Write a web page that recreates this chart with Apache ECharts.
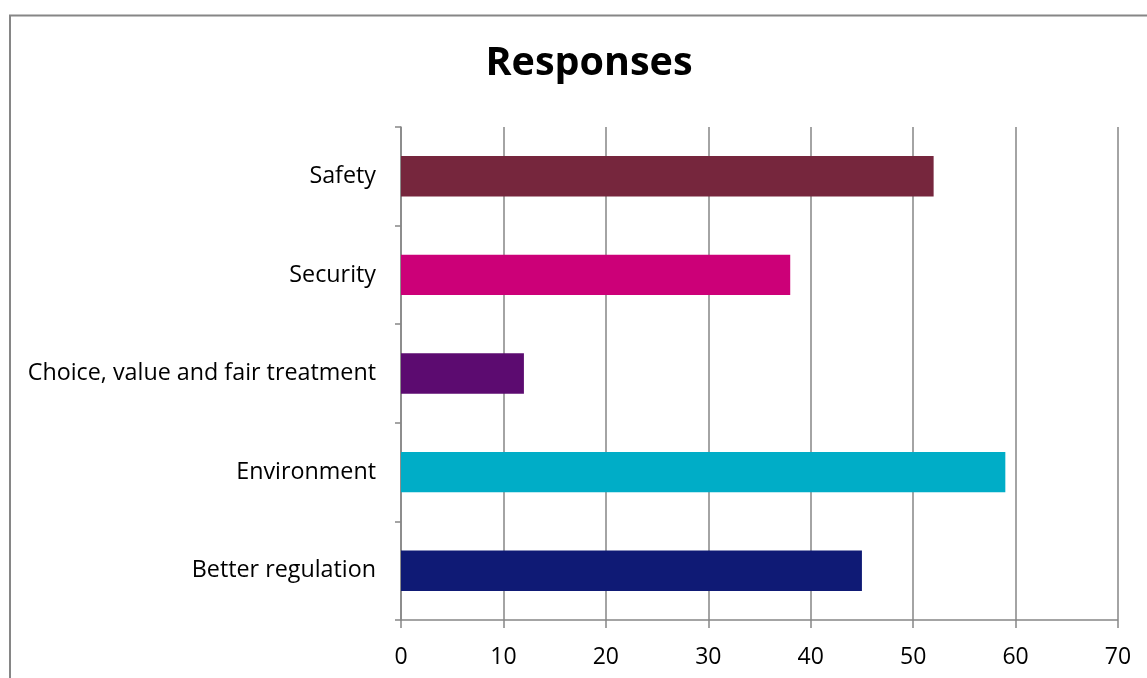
<!DOCTYPE html>
<html><head><meta charset="utf-8">
<script src="https://cdn.jsdelivr.net/npm/echarts@6/dist/echarts.min.js"></script>
<style>html,body{margin:0;padding:0;background:#fff}#c{width:1147px;height:678px}</style>
</head><body><div id="c"></div>
<script>
const categories = ['Better regulation', 'Environment', 'Choice, value and fair treatment', 'Security', 'Safety'];
const values = [45, 59, 12, 38, 52];
const barColors = ['#0f1a75', '#00adc7', '#5c0b70', '#cc0078', '#76263d'];
const xTicks = [0, 10, 20, 30, 40, 50, 60, 70];

const chart = echarts.init(document.getElementById('c'));
const font = '"Open Sans", Lato, sans-serif';
chart.setOption({
  animation: false,
  backgroundColor: '#fff',
  title: {
    text: 'Responses', left: 584, top: 39, textAlign: 'center',
    textStyle: { fontFamily: font, fontSize: 39.5, fontWeight: 'bold', color: '#000' }
  },
  graphic: [{
    type: 'polyline', silent: true,
    shape: { points: [[10, 690], [10, 15.5], [1160, 15.5]] },
    style: { stroke: '#868686', lineWidth: 2, fill: null }
  }],
  grid: { left: 401, right: 29, top: 127, bottom: 58, containLabel: false },
  xAxis: {
    type: 'value', min: xTicks[0], max: xTicks[xTicks.length - 1], interval: 10,
    axisLine: { show: false },
    axisTick: { show: true, length: 8, lineStyle: { color: '#868686', width: 1.5 } },
    axisLabel: { fontFamily: font, fontSize: 23, color: '#000', margin: 26 },
    splitLine: { show: true, lineStyle: { color: '#868686', width: 1.5 } }
  },
  yAxis: {
    type: 'category', data: categories,
    axisLine: { show: true, lineStyle: { color: '#868686', width: 1.5 } },
    axisTick: { show: true, length: 6, lineStyle: { color: '#868686', width: 1.5 } },
    axisLabel: { fontFamily: font, fontSize: 23.3, color: '#000', margin: 25 },
    splitLine: { show: false }
  },
  series: [{
    type: 'bar', barWidth: '41%',
    data: values.map((v, i) => ({ value: v, itemStyle: { color: barColors[i] } }))
  }, {
    type: 'line', silent: true, symbol: 'none', xAxisIndex: 0,
    data: [], markLine: {
      silent: true, symbol: 'none', label: { show: false },
      lineStyle: { color: '#868686', width: 1.5, type: 'solid' },
      data: [[{ x: 401, y: 620 }, { x: 1118, y: 620 }]]
    }
  }]
});
</script></body></html>
